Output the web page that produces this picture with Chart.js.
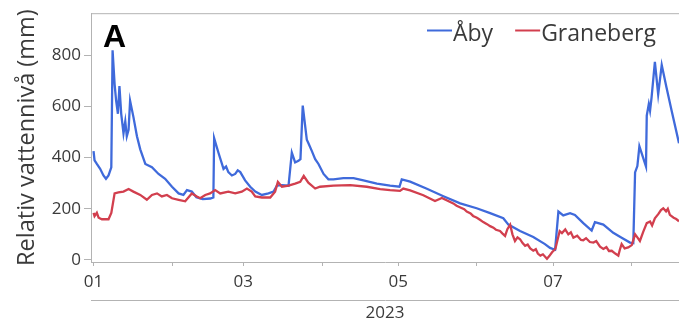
<!DOCTYPE html>
<html>
<head>
<meta charset="utf-8">
<script src="https://cdn.jsdelivr.net/npm/chart.js@4"></script>
<style>
  body { margin: 0; background: #fff; }
  #wrap { width: 679px; height: 325px; }
</style>
</head>
<body>
<div id="wrap"><canvas id="myChart" width="679" height="325"></canvas></div>
<script>
// days since 2023-01-01 and relative water level (mm)
var abyDays = [0, 0.4, 1.3, 2.6, 3.9, 4.9, 5.9, 7.0, 7.5, 8.3, 8.9, 9.6, 10.2, 10.9, 11.8, 12.5, 13.1, 13.8, 14.4, 15.7,
  17.1, 18.4, 20.4, 23.0, 25.6, 28.2, 30.9, 33.5, 35.4, 36.8, 38.7, 40.5, 43, 46, 47.2, 47.5, 49.2, 51.2, 52.2, 53.1,
  54.5, 55.8, 56.8, 57.8, 59.7, 61.7, 63.7, 66.3, 68.9, 70.9, 72.2, 74.2, 76.8, 78.1, 79.4, 80.7, 81.5, 82.4, 84.0, 84.6,
  86.0, 87.3, 88.6, 90.6, 92.5, 94.5, 98.4, 102.4, 106.3, 111.6, 116.8, 120.5, 121.4, 124.7, 131.3, 137.8, 144.4, 150.9, 156.2, 161.4,
  163.4, 168.0, 173.2, 177.8, 179.8, 181.8, 183.1, 185.0, 187.7, 189.6, 192.9, 196.2, 197.5, 200.8, 204.7, 208.0, 211.3, 212.6, 213.3, 214.2,
  215.0, 216.3, 217.6, 217.9, 218.7, 219.2, 219.8, 221.1, 222.4, 223.8, 225.7, 227.7, 230.6];
var abyLevels = [425, 389, 375, 356, 330, 317, 330, 362, 819, 686, 622, 571, 679, 571, 495, 541, 483, 508, 622, 559,
  483, 432, 375, 362, 336, 317, 286, 260, 254, 273, 267, 245, 238, 240, 244, 476, 419, 356, 365, 343,
  330, 336, 350, 343, 311, 286, 267, 254, 260, 267, 290, 292, 290, 419, 381, 387, 394, 603, 470, 457,
  425, 394, 375, 336, 315, 315, 320, 320, 311, 298, 290, 286, 315, 306, 278, 249, 221, 202, 183, 163,
  138, 113, 90, 62, 47, 40, 189, 174, 183, 176, 144, 115, 148, 138, 106, 87, 68, 66, 342, 367,
  444, 405, 365, 564, 609, 583, 635, 774, 647, 762, 673, 583, 456];

var granDays = [0, 0.4, 1.3, 2.0, 3.3, 5.9, 7.0, 8.3, 9.8, 11.8, 13.8, 15.7, 18.4, 21.0, 23.0, 25.0, 26.9, 28.9, 30.9, 33.5,
  36.1, 38.7, 40.7, 42.0, 44.0, 45.9, 47.9, 49.9, 53.1, 55.8, 58.4, 60.4, 62.3, 63.7, 66.3, 69.6, 71.5, 72.6, 74.2, 76.8,
  79.4, 81.4, 82.8, 84.6, 87.3, 89.2, 94.5, 101.1, 107.6, 112.9, 116.8, 120.7, 122.0, 124.7, 129.9, 134.5, 137.2, 141.7, 143, 144.5,
  146, 147, 148.5, 149.5, 151, 152.2, 153.5, 155, 156.2, 157.5, 158.5, 160.1, 161, 162.1, 163, 164.1, 165, 166, 167, 168,
  169, 170, 171, 172, 173.2, 174.2, 175, 176, 177, 178.6, 179.5, 180.6, 181.9, 183.6, 184.5, 185.8, 187, 188, 189, 190.5,
  192, 192.9, 194, 195.5, 196.9, 198, 199.5, 200.8, 202, 203, 204.1, 205.5, 206.7, 207.3, 208, 209.2, 210.6, 212, 213.3, 214.2,
  215.2, 216.5, 217.9, 219.2, 220, 221.1, 222.5, 223.5, 224.4, 225.5, 226.2, 227, 228.5, 229.5, 230.6];
var granLevels = [184, 171, 184, 165, 159, 159, 184, 260, 264, 267, 277, 267, 254, 235, 254, 260, 248, 254, 241, 235,
  229, 260, 248, 241, 254, 260, 273, 260, 267, 260, 267, 279, 267, 248, 244, 244, 267, 305, 286, 290,
  298, 305, 328, 302, 279, 286, 290, 292, 286, 277, 273, 270, 279, 272, 253, 230, 242, 221, 212, 205,
  198, 189, 182, 172, 165, 157, 148, 140, 132, 126, 118, 113, 104, 94, 120, 138, 100, 74, 88, 81,
  66, 55, 60, 45, 36, 42, 25, 17, 22, 5, 15, 30, 43, 113, 105, 119, 100, 108, 87, 95,
  78, 77, 85, 70, 68, 74, 52, 43, 50, 35, 36, 25, 17, 40, 62, 45, 49, 58, 100, 88,
  74, 110, 144, 150, 135, 163, 180, 195, 202, 190, 200, 176, 165, 160, 151];

var seriesNames = ['Åby', 'Graneberg'];
var monthTicks = [0, 31, 59, 90, 120, 151, 181, 212];
var monthLabels = ['01', '', '03', '', '05', '', '07', ''];
var levelTicks = [0, 200, 400, 600, 800];
var yearLabel = '2023';
var panelLetter = 'A';

var xMin = -1, xMax = 230.6;
var axisGray = '#b3b3b3';
var textGray = '#3a3a3a';
var fontName = "'Open Sans', 'Noto Sans', sans-serif";

function toPoints(days, vals) {
    var pts = [];
    for (var i = 0; i < days.length; i++) pts.push({ x: days[i], y: vals[i] });
    return pts;
}

// legend inside the plot + panel letter + top frame line
var decorPlugin = {
    id: 'decor',
    afterDraw: function(chart) {
        var ctx = chart.ctx;
        var area = chart.chartArea;
        ctx.save();
        ctx.strokeStyle = axisGray;
        ctx.lineWidth = 1;
        ctx.beginPath();
        ctx.moveTo(area.left, area.top + 0.5);
        ctx.lineTo(area.right, area.top + 0.5);
        ctx.stroke();

        ctx.fillStyle = '#000';
        ctx.font = "bold 32px 'Liberation Sans', Arial, sans-serif";
        ctx.textBaseline = 'alphabetic';
        ctx.fillText(panelLetter, 103, 47);

        ctx.font = '23px ' + fontName;
        var x = 427, lineY = 30.5, textY = 41;
        chart.data.datasets.forEach(function(ds) {
            ctx.strokeStyle = ds.borderColor;
            ctx.lineWidth = 2;
            ctx.beginPath();
            ctx.moveTo(x, lineY);
            ctx.lineTo(x + 25, lineY);
            ctx.stroke();
            ctx.fillStyle = textGray;
            ctx.fillText(ds.label, x + 26, textY);
            x += 26 + ctx.measureText(ds.label).width + 22;
        });
        ctx.restore();
    }
};

var ctx = document.getElementById('myChart').getContext('2d');
var chart = new Chart(ctx, {
    type: 'line',
    data: {
        datasets: [{
            label: seriesNames[0],
            data: toPoints(abyDays, abyLevels),
            borderColor: '#3f6adb',
            borderWidth: 2.3,
            pointRadius: 0,
            tension: 0,
            order: 1
        }, {
            label: seriesNames[1],
            data: toPoints(granDays, granLevels),
            borderColor: '#d23f4e',
            borderWidth: 2.3,
            pointRadius: 0,
            tension: 0,
            order: 0
        }]
    },
    options: {
        responsive: false,
        animation: false,
        parsing: false,
        layout: { padding: { top: 7, left: 0, right: 0, bottom: 0 } },
        plugins: { legend: { display: false }, tooltip: { enabled: false } },
        scales: {
            x: {
                type: 'linear',
                position: 'bottom',
                min: xMin,
                max: xMax,
                weight: 0,
                afterBuildTicks: function(scale) {
                    scale.ticks = monthTicks.map(function(v) { return { value: v }; });
                },
                afterFit: function(scale) { scale.height = 38; },
                ticks: {
                    autoSkip: false,
                    maxRotation: 0,
                    padding: 6,
                    color: textGray,
                    font: { family: fontName, size: 17 },
                    callback: function(value, index) { return monthLabels[index]; }
                },
                grid: { drawOnChartArea: false, drawTicks: true, tickLength: 4, color: axisGray },
                border: { color: axisGray }
            },
            x2: {
                type: 'linear',
                position: 'bottom',
                min: xMin,
                max: xMax,
                weight: 1,
                afterFit: function(scale) { scale.height = 25; },
                ticks: { display: false },
                grid: { display: false },
                border: { display: true, color: axisGray },
                title: {
                    display: true,
                    text: yearLabel,
                    color: textGray,
                    font: { family: fontName, size: 17 },
                    padding: { top: 0, bottom: 2 }
                }
            },
            y: {
                min: -8,
                max: 964,
                afterBuildTicks: function(scale) {
                    scale.ticks = levelTicks.map(function(v) { return { value: v }; });
                },
                afterFit: function(scale) { scale.width = 91; },
                ticks: {
                    padding: 3,
                    color: textGray,
                    font: { family: fontName, size: 17 }
                },
                grid: { drawOnChartArea: false, drawTicks: true, tickLength: 7, color: axisGray },
                border: { color: axisGray },
                title: {
                    display: true,
                    text: 'Relativ vattennivå (mm)',
                    color: textGray,
                    font: { family: fontName, size: 23.5 },
                    padding: { top: 13, bottom: 0 }
                }
            }
        }
    },
    plugins: [decorPlugin]
});
</script>
</body>
</html>
